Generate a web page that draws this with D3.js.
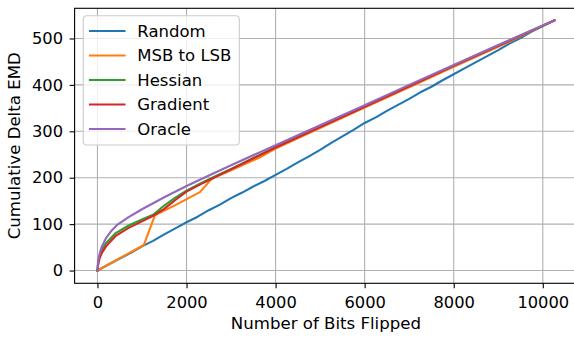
<!DOCTYPE html>
<html>
<head>
<meta charset="utf-8">
<script src="https://cdn.jsdelivr.net/npm/d3@7/dist/d3.min.js"></script>
<style>
  html, body { margin: 0; padding: 0; background: #fff; }
  svg { display: block; font-family: "DejaVu Sans", sans-serif; }
</style>
</head>
<body>
<svg id="chart" width="574" height="337"></svg>
<script>
// Cumulative Delta EMD versus number of bits flipped, per bit-selection strategy
const seriesNames = ["Random", "MSB to LSB", "Hessian", "Gradient", "Oracle"];
const seriesColors = ["#1f77b4", "#ff7f0e", "#2ca02c", "#d62728", "#9467bd"];

const randomX = [0, 250, 500, 750, 1000, 1250, 1500, 1750, 2000, 2250, 2500, 2750, 3000, 3250, 3500, 3750, 4000, 4250, 4500, 4750, 5000, 5250, 5500, 5750, 6000, 6250, 6500, 6750, 7000, 7250, 7500, 7750, 8000, 8250, 8500, 8750, 9000, 9250, 9500, 9750, 10000, 10262];
const randomY = [0, 13, 26, 38, 52, 64, 78, 91, 104, 116, 130, 142, 156, 168, 181, 193, 206, 219, 233, 246, 260, 275, 289, 303, 318, 330, 344, 357, 370, 384, 396, 410, 423, 436, 449, 462, 475, 489, 501, 515, 527, 539];

const msbX = [0, 1040, 1290, 1750, 2300, 2570, 3000, 3650, 4000, 5000, 6000, 7000, 8000, 9000, 10262];
const msbY = [0, 55, 119, 141, 169, 198, 216, 244, 263, 307, 351, 395, 439, 482, 539];

const hessianX = [0, 20, 50, 100, 200, 400, 700, 1000, 1250, 1500, 1750, 2000, 2300, 2600, 3000, 4000, 5000, 6000, 7000, 8000, 9000, 10262];
const hessianY = [0, 18, 32, 45, 60, 80, 97, 110, 120, 140, 157, 172, 187, 201, 219, 266, 310, 354, 398, 442, 485, 539];

const gradientX = [0, 20, 50, 100, 200, 400, 700, 1000, 1250, 1500, 1750, 2000, 2300, 2600, 3000, 4000, 5000, 6000, 7000, 8000, 9000, 10262];
const gradientY = [0, 15, 27, 38, 53, 74, 92, 106, 118, 133, 152, 170, 185, 199, 218, 265, 309, 353, 397, 441, 484, 539];

const oracleX = [0, 5, 20, 50, 100, 200, 300, 450, 700, 1000, 1500, 2000, 2600, 3000, 4000, 5000, 6000, 7000, 8000, 9000, 10262];
const oracleY = [0, 10, 23, 37, 52, 71, 84, 99, 115, 132, 158, 182, 209, 227, 270, 313, 356, 400, 443, 486, 539];

const xTicks = [0, 2000, 4000, 6000, 8000, 10000];
const yTicks = [0, 100, 200, 300, 400, 500];

const seriesX = [randomX, msbX, hessianX, gradientX, oracleX];
const seriesY = [randomY, msbY, hessianY, gradientY, oracleY];

const svg = d3.select("#chart");
const W = 574, H = 337;
const plot = { left: 74.6, right: 577.3, top: 8.3, bottom: 283.3 };

const x = d3.scaleLinear().domain([-513, 10775]).range([plot.left, plot.right]);
const y = d3.scaleLinear().domain([-27.5, 565]).range([plot.bottom, plot.top]);

svg.append("rect").attr("width", W).attr("height", H).attr("fill", "#fff");

// grid
const grid = svg.append("g").attr("stroke", "#b0b0b0").attr("stroke-width", 1.1);
grid.selectAll("line.gx").data(xTicks).join("line")
  .attr("x1", d => x(d)).attr("x2", d => x(d))
  .attr("y1", plot.top).attr("y2", plot.bottom);
grid.selectAll("line.gy").data(yTicks).join("line")
  .attr("x1", plot.left).attr("x2", plot.right)
  .attr("y1", d => y(d)).attr("y2", d => y(d));

// series lines
const line = d3.line().x(d => x(d[0])).y(d => y(d[1]));
seriesNames.forEach((name, i) => {
  const pts = seriesX[i].map((v, j) => [v, seriesY[i][j]]);
  svg.append("path")
    .datum(pts)
    .attr("d", line)
    .attr("fill", "none")
    .attr("stroke", seriesColors[i])
    .attr("stroke-width", 2.1)
    .attr("stroke-linejoin", "round")
    .attr("stroke-linecap", "square");
});

// spines
const spines = svg.append("g").attr("stroke", "#000").attr("stroke-width", 1.1).attr("fill", "none");
spines.append("rect")
  .attr("x", plot.left).attr("y", plot.top)
  .attr("width", plot.right - plot.left).attr("height", plot.bottom - plot.top);

// axes
const xAxis = svg.append("g")
  .attr("transform", `translate(0,${plot.bottom})`)
  .call(d3.axisBottom(x).tickValues(xTicks).tickFormat(d3.format("d")).tickSize(5).tickPadding(8.4));
const yAxis = svg.append("g")
  .attr("transform", `translate(${plot.left},0)`)
  .call(d3.axisLeft(y).tickValues(yTicks).tickFormat(d3.format("d")).tickSize(5).tickPadding(6.6));
[xAxis, yAxis].forEach(a => {
  a.select(".domain").remove();
  a.selectAll(".tick line").attr("stroke", "#000").attr("stroke-width", 1.1);
  a.selectAll(".tick text")
    .attr("fill", "#000")
    .style("font-family", "'DejaVu Sans', sans-serif")
    .style("font-size", "16.3px");
});

// axis titles
svg.append("text")
  .attr("x", (plot.left + plot.right) / 2).attr("y", 328.5)
  .attr("text-anchor", "middle")
  .attr("fill", "#000")
  .style("font-size", "16.6px")
  .text("Number of Bits Flipped");
svg.append("text")
  .attr("transform", `translate(20,${(plot.top + plot.bottom) / 2}) rotate(-90)`)
  .attr("text-anchor", "middle")
  .attr("fill", "#000")
  .style("font-size", "16.6px")
  .text("Cumulative Delta EMD");

// legend
const legend = svg.append("g");
legend.append("rect")
  .attr("x", 83.3).attr("y", 15.7).attr("width", 156).attr("height", 129.3)
  .attr("rx", 3.5)
  .attr("fill", "rgba(255,255,255,0.8)")
  .attr("stroke", "#cccccc").attr("stroke-width", 1.1);
const rows = legend.selectAll("g.row").data(seriesNames).join("g")
  .attr("transform", (d, i) => `translate(0,${31 + i * 24.5})`);
rows.append("line")
  .attr("x1", 90).attr("x2", 124.5).attr("y1", 0).attr("y2", 0)
  .attr("stroke", (d, i) => seriesColors[i]).attr("stroke-width", 2.1)
  .attr("stroke-linecap", "square");
rows.append("text")
  .attr("x", 137.3).attr("y", 0).attr("dy", "0.36em")
  .attr("fill", "#000")
  .style("font-size", "16.5px")
  .text(d => d);
</script>
</body>
</html>
